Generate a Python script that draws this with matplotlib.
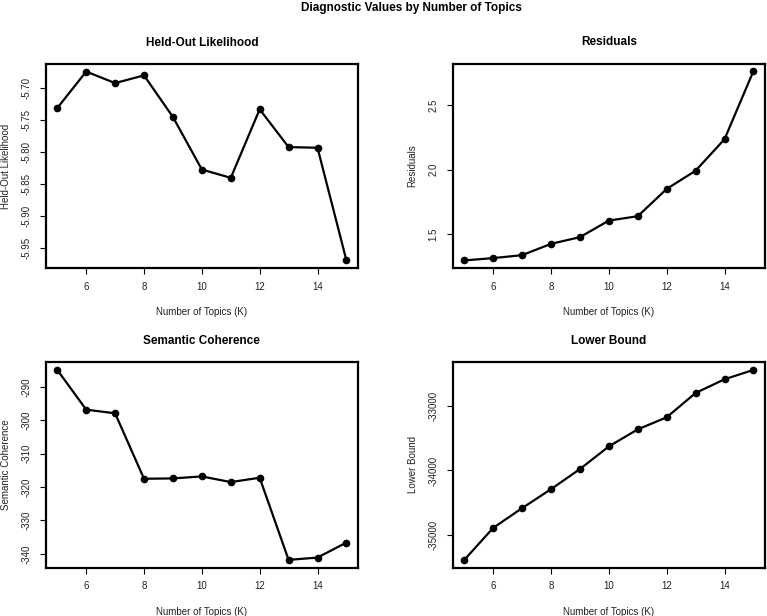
import matplotlib
matplotlib.use("Agg")
import matplotlib.pyplot as plt

plt.rcParams["font.family"] = ["Liberation Sans", "DejaVu Sans"]
plt.rcParams["axes.unicode_minus"] = False

# number of topics tried
K = [5, 6, 7, 8, 9, 10, 11, 12, 13, 14, 15]

# diagnostic values
heldout = [-5.732, -5.675, -5.693, -5.681, -5.746, -5.828, -5.841, -5.734, -5.793, -5.794, -5.970]
residuals = [1.293, 1.311, 1.334, 1.422, 1.474, 1.603, 1.637, 1.849, 1.991, 2.236, 2.766]
semcoh = [-284.9, -296.8, -297.9, -317.5, -317.4, -316.8, -318.5, -317.2, -341.8, -341.1, -336.6]
lbound = [-35381, -34887, -34582, -34289, -33979, -33629, -33366, -33180, -32804, -32593, -32448]

titles = ["Held-Out Likelihood", "Residuals", "Semantic Coherence", "Lower Bound"]
yticks = [[-5.95, -5.90, -5.85, -5.80, -5.75, -5.70],
          [1.5, 2.0, 2.5],
          [-340, -330, -320, -310, -300, -290],
          [-35000, -34000, -33000]]
yfmt = ["%.2f", "%.1f", "%d", "%d"]
series = [heldout, residuals, semcoh, lbound]

W, H = 767, 616
fig = plt.figure(figsize=(W / 100, H / 100), dpi=100)

# panel boxes in pixels: left, top, right, bottom
boxes = [(45.7, 64, 358, 268), (452.7, 63.5, 765, 268),
         (45.7, 362.3, 358, 567.5), (452.7, 362.3, 765, 567.5)]

for i in range(4):
    l, t, r, b = boxes[i]
    ax = fig.add_axes([l / W, 1 - b / H, (r - l) / W, (b - t) / H])
    ax.plot(K, series[i], color="black", lw=1.6, marker="o", ms=4.5)
    ax.margins(x=0.04, y=0.04)
    ax.set_xticks([6, 8, 10, 12, 14])
    ax.set_yticks(yticks[i])
    ax.set_yticklabels([yfmt[i] % v for v in yticks[i]], rotation=90, va="center")
    for s in ax.spines.values():
        s.set_linewidth(1.6)
    ax.tick_params(length=4, width=0.8, labelsize=7, direction="out", labelcolor="#222222")
    ax.tick_params(axis="x", pad=6)
    ax.tick_params(axis="y", pad=6)
    ax.set_title(titles[i], fontsize=8.5, fontweight="bold", pad=13)
    ax.set_xlabel("Number of Topics (K)", fontsize=7, labelpad=11, color="#222222")
    ax.set_ylabel(titles[i], fontsize=7, labelpad=8, color="#222222")

fig.suptitle("Diagnostic Values by Number of Topics", fontsize=8.5, fontweight="bold",
             x=0.537, y=1 - 8 / H, va="center")

fig.savefig("out.png", dpi=100)
